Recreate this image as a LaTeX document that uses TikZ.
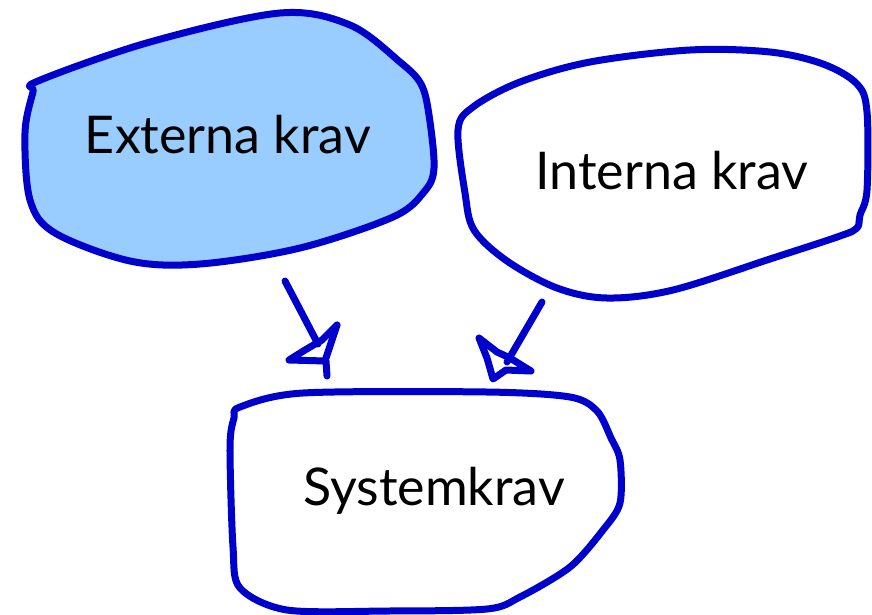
\documentclass[tikz,border=0pt]{standalone}
\usepackage{fontspec}
\setmainfont{Lato}
\definecolor{penblue}{RGB}{0,0,204}
\definecolor{blobfill}{RGB}{153,204,255}
\tikzset{
  blob/.style={draw=penblue, line width=7pt, line join=round, line cap=round},
  pen/.style={draw=penblue, line width=7pt, line join=round, line cap=round},
  label/.style={anchor=base, font=\fontsize{52}{62}\selectfont, text=black, inner sep=0pt}
}
\begin{document}
\begin{tikzpicture}[x=1pt, y=-1pt]
\useasboundingbox (0,0) rectangle (872,614);

% left cloud, filled
\draw[blob, fill=blobfill] plot[smooth cycle, tension=0.55] coordinates {
  (38,81) (150,42) (280,13) (350,25) (400,62) (421,84) (429,115) (434,168)
  (424,192) (393,217) (300,248) (200,264) (130,261) (55,233) (30,200) (25,133) (33,92)};

% right cloud
\draw[blob] plot[smooth cycle, tension=0.55] coordinates {
  (473,107) (520,82) (590,62) (690,50) (770,52) (823,64) (857,84) (867,112)
  (867,190) (860,215) (857,228) (840,236) (773,258) (673,290) (607,298)
  (557,288) (507,261) (474,230) (465,193) (458,130)};

% bottom cloud
\draw[blob] plot[smooth cycle, tension=0.5] coordinates {
  (240,407) (303,393) (487,392) (570,397) (597,411) (611,438) (620,460)
  (620,503) (603,530) (570,567) (520,597) (487,609) (387,611) (287,610)
  (240,588) (233,547) (230,447) (234,418)};

\node[label] (ext) at (228,153) {Externa krav};
\node[label] (int) at (672,189) {Interna krav};
\node[label] (sys) at (434,505) {Systemkrav};

% hand-drawn connectors
\coordinate (a1s) at (285,281);
\coordinate (a1e) at (318,344);
\coordinate (a2s) at (542,302);
\coordinate (a2e) at (507,362);
\draw[pen] (a1s) -- (a1e);
\draw[pen] (337,325) -- (322,340) -- (305,350) -- (289,360) -- (326,361) -- (327,376);
\draw[pen] (337,325) -- (326,358);
\draw[pen] (a2s) -- (a2e);
\draw[pen] (479,338) -- (497,352) -- (510,358) -- (531,371) -- (506,370) -- (493,379) -- (487,358) -- cycle;
\end{tikzpicture}
\end{document}
